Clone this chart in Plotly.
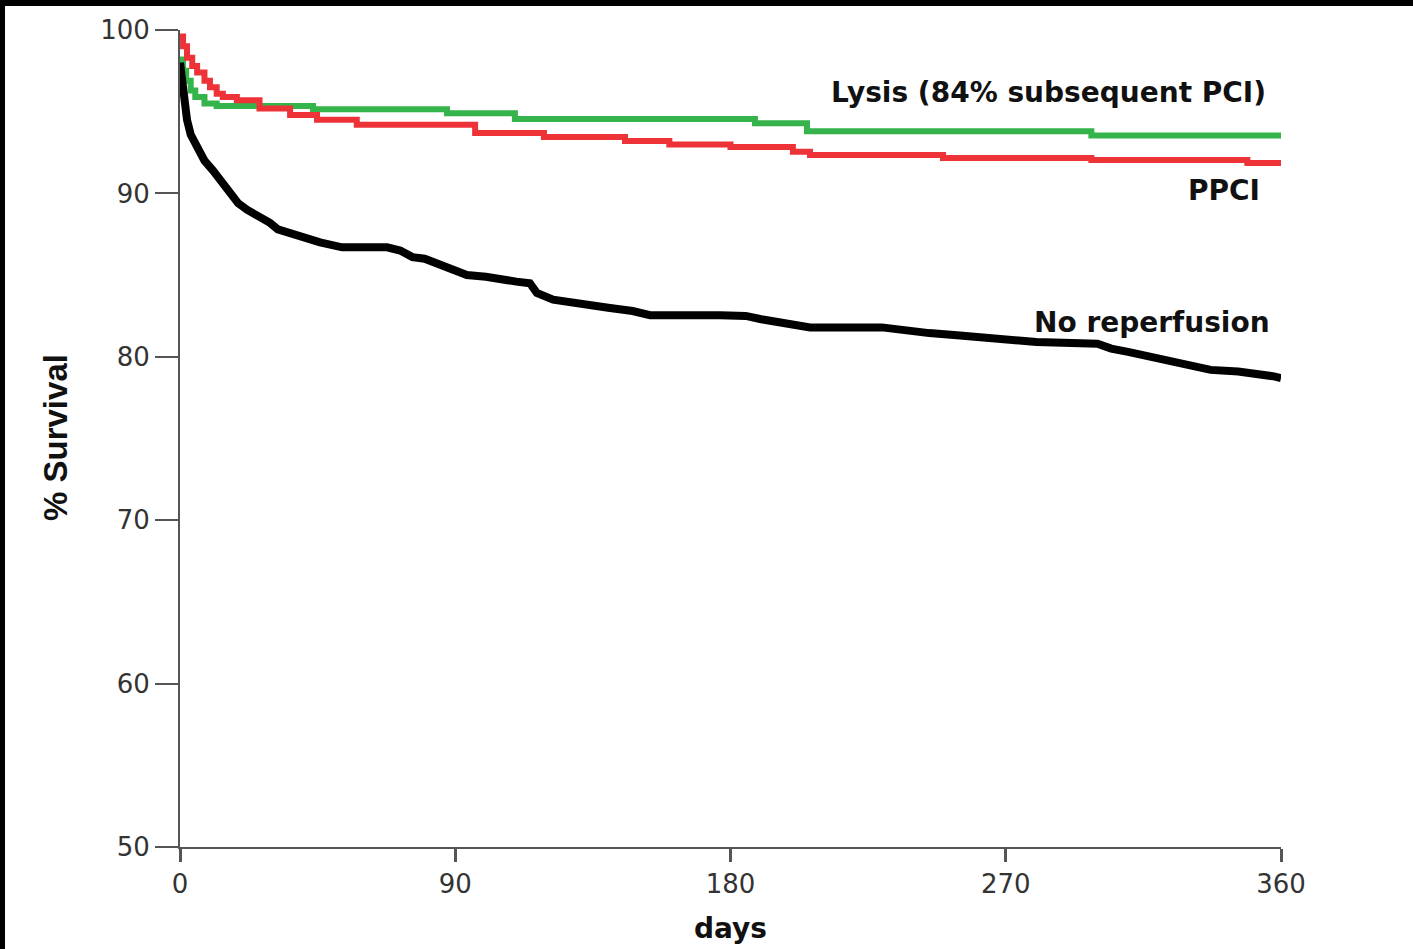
import plotly.graph_objects as go

# ---- data ----
x_ticks = [0, 90, 180, 270, 360]
y_ticks = [50, 60, 70, 80, 90, 100]

lysis_days = [0, 1, 2, 3.5, 5, 8, 12, 43.5, 87.3, 109.5, 188, 205, 298, 360]
lysis_surv = [98.2, 97.5, 96.9, 96.3, 95.9, 95.5, 95.35, 95.15, 94.9, 94.55, 94.3, 93.8, 93.55, 93.55]

ppci_days = [0, 1, 2.3, 4, 5.6, 8, 9.8, 12, 14, 18.6, 26, 36, 44.8, 57.8, 96.5, 119,
             145.5, 160, 180, 200.4, 206, 249.5, 298, 349, 360]
ppci_surv = [99.6, 99.0, 98.3, 97.8, 97.4, 96.9, 96.5, 96.1, 95.9, 95.7, 95.2, 94.8, 94.5,
             94.2, 93.7, 93.45, 93.2, 93.0, 92.84, 92.55, 92.35, 92.17, 92.04, 91.86, 91.86]

norep_days = [0, 0.5, 1, 2.3, 3.5, 5.6, 8, 10.8, 13.5, 16.3, 19, 21.9, 25, 29.4, 32, 35, 40,
              45.8, 53, 67.7, 72, 76, 80, 85, 89, 93.8, 100, 105, 110, 114.4, 116.7, 122,
              128, 133, 140, 148, 153.7, 176.6, 185, 190, 196, 206, 229.5, 237, 245, 255,
              262.6, 270, 280, 300, 304.5, 310, 317.5, 323, 329, 337, 346, 352, 357.7, 360]
norep_surv = [98.0, 97.0, 96.0, 94.5, 93.6, 92.8, 92.0, 91.4, 90.7, 90.0, 89.4, 89.0, 88.7,
              88.2, 87.8, 87.6, 87.3, 87.0, 86.7, 86.7, 86.5, 86.1, 86.0, 85.6, 85.3, 85.0,
              84.9, 84.7, 84.6, 84.5, 83.9, 83.5, 83.3, 83.2, 83.0, 82.8, 82.55, 82.55, 82.5,
              82.3, 82.1, 81.8, 81.8, 81.6, 81.45, 81.3, 81.15, 81.0, 80.9, 80.8, 80.5, 80.3,
              80.0, 79.8, 79.5, 79.2, 79.1, 79.0, 78.8, 78.7]

fig = go.Figure()
fig.add_trace(go.Scatter(x=lysis_days, y=lysis_surv, mode="lines", line_shape="hv",
                         line=dict(color="#34b44a", width=6), name="Lysis"))
fig.add_trace(go.Scatter(x=ppci_days, y=ppci_surv, mode="lines", line_shape="hv",
                         line=dict(color="#ee3338", width=6), name="PPCI"))
fig.add_trace(go.Scatter(x=norep_days, y=norep_surv, mode="lines", line_shape="linear",
                         line=dict(color="#000000", width=8), name="No reperfusion"))

tick_font = dict(family="DejaVu Sans", size=26, color="#333333")
lab_font = dict(family="DejaVu Sans", size=28, color="#111111")

fig.update_xaxes(range=[0, 360], tickvals=x_ticks, ticktext=[str(v) for v in x_ticks],
                 showline=True, linecolor="#555555", linewidth=2, ticks="outside",
                 ticklen=13, tickwidth=3, tickcolor="#555555", showgrid=False,
                 zeroline=False, tickfont=tick_font)
fig.update_yaxes(range=[50, 100], tickvals=y_ticks, ticktext=[str(v) for v in y_ticks],
                 showline=True, linecolor="#555555", linewidth=2, ticks="outside",
                 ticklen=23, tickwidth=2, tickcolor="#555555", showgrid=False,
                 zeroline=False, tickfont=tick_font)

ann = []
ann.append(dict(x=355.8, y=96.2, xref="x", yref="y", text="<b>Lysis (84% subsequent PCI)</b>",
                xanchor="right", yanchor="middle", showarrow=False, font=lab_font))
ann.append(dict(x=353.8, y=90.2, xref="x", yref="y", text="<b>PPCI</b>",
                xanchor="right", yanchor="middle", showarrow=False, font=lab_font))
ann.append(dict(x=357.0, y=82.13, xref="x", yref="y", text="<b>No reperfusion</b>",
                xanchor="right", yanchor="middle", showarrow=False, font=lab_font))
# axis titles
ann.append(dict(x=(55 - 180) / 1101, y=(847 - 438) / 817, xref="paper", yref="paper",
                text="<b>% Survival</b>", textangle=-90, showarrow=False,
                xanchor="center", yanchor="middle",
                font=dict(family="Liberation Sans", size=33, color="#111111")))
ann.append(dict(x=(730 - 180) / 1101, y=(847 - 928) / 817, xref="paper", yref="paper",
                text="<b>days</b>", showarrow=False, xanchor="center", yanchor="middle",
                font=dict(family="DejaVu Sans", size=28, color="#111111")))

shapes = [
    dict(type="rect", xref="paper", yref="paper", x0=-0.17, x1=1.2,
         y0=(847 - 6) / 817, y1=(847 + 0) / 817 + 0.01, fillcolor="black", line_width=0),
    dict(type="rect", xref="paper", yref="paper", x0=-0.17, x1=(5 - 180) / 1101,
         y0=-0.15, y1=1.05, fillcolor="black", line_width=0),
]

fig.update_layout(width=1413, height=949, showlegend=False,
                  paper_bgcolor="white", plot_bgcolor="white",
                  margin=dict(l=180, r=132, t=30, b=102),
                  annotations=ann, shapes=shapes)

fig.write_html("out.html", config={"displayModeBar": False},
               post_script="document.body.style.margin='0';document.body.style.overflow='hidden';")
